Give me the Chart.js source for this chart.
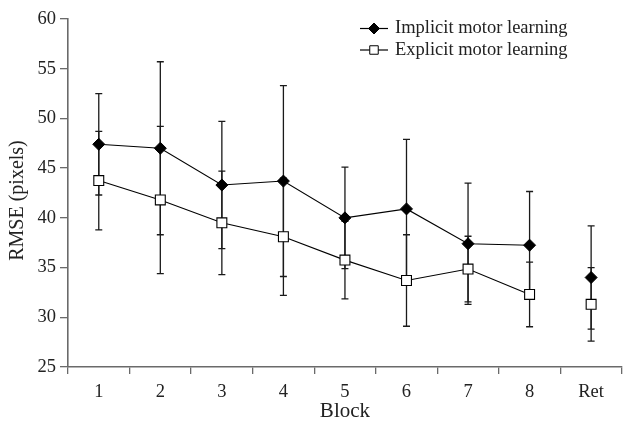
<!DOCTYPE html>
<html>
<head>
<meta charset="utf-8">
<script src="https://cdn.jsdelivr.net/npm/chart.js@4.4.1/dist/chart.umd.min.js"></script>
<style>
html, body { margin: 0; padding: 0; background: #fff; overflow: hidden; }
#wrap { width: 630px; height: 421px; }
</style>
</head>
<body>
<div id="wrap"><canvas id="chart"></canvas></div>
<script>
// values
var blocks = ['1', '2', '3', '4', '5', '6', '7', '8', 'Ret'];
var implicitMean = [47.4, 47.0, 43.3, 43.7, 40.0, 40.9, 37.4, 37.25, 34.0];
var implicitErr = [5.1, 8.7, 6.4, 9.6, 5.1, 7.0, 6.1, 5.4, 5.2];
var explicitMean = [43.75, 41.8, 39.5, 38.1, 35.75, 33.7, 34.85, 32.3, 31.3];
var explicitErr = [4.95, 7.4, 5.2, 5.9, 3.9, 4.6, 3.3, 3.25, 3.7];
var yMin = 25;
var yMax = 60;
var yStep = 5;

var textColor = '#222';
var axisColor = '#6a6a6a';
var serif = '"Liberation Serif", "DejaVu Serif", serif';

// vertical error bars with small caps, drawn under the markers
var errorBars = {
    id: 'errorBars',
    beforeDatasetsDraw: function(chart) {
        var ctx = chart.ctx;
        var xs = chart.scales.x;
        var ys = chart.scales.y;
        ctx.save();
        ctx.strokeStyle = '#1a1a1a';
        ctx.lineWidth = 1.3;
        chart.data.datasets.forEach(function(ds) {
            ds.data.forEach(function(v, i) {
                var e = ds.errors[i];
                var x = xs.getPixelForValue(i);
                var top = ys.getPixelForValue(v + e);
                var bot = ys.getPixelForValue(v - e);
                ctx.beginPath();
                ctx.moveTo(x, top);
                ctx.lineTo(x, bot);
                ctx.moveTo(x - 3.5, top);
                ctx.lineTo(x + 3.5, top);
                ctx.moveTo(x - 3.5, bot);
                ctx.lineTo(x + 3.5, bot);
                ctx.stroke();
            });
        });
        ctx.restore();
    }
};

// legend: short line with the marker, then the label
var lineLegend = {
    id: 'lineLegend',
    afterDraw: function(chart) {
        var ctx = chart.ctx;
        ctx.save();
        ctx.font = '18.5px ' + serif;
        ctx.textBaseline = 'middle';
        ctx.textAlign = 'left';
        chart.data.datasets.forEach(function(ds, k) {
            var y = 28.5 + k * 21.5;
            ctx.strokeStyle = '#000';
            ctx.lineWidth = 1.2;
            ctx.beginPath();
            ctx.moveTo(360, y);
            ctx.lineTo(388, y);
            ctx.stroke();
            ctx.fillStyle = ds.pointBackgroundColor;
            ctx.strokeStyle = '#000';
            ctx.lineWidth = 1;
            Chart.helpers.drawPoint(ctx, {
                pointStyle: ds.pointStyle,
                radius: ds.legendRadius,
                rotation: 0,
                borderWidth: 1
            }, 374, y);
            ctx.fillStyle = textColor;
            ctx.fillText(ds.label, 395, y);
        });
        ctx.restore();
    }
};

var yTicks = [];
for (var t = yMin; t <= yMax; t += yStep) yTicks.push(t);

const ctx = document.getElementById('chart');

var myChart = new Chart(ctx, {
    type: 'line',
    data: {
        labels: blocks,
        datasets: [
            {
                label: 'Implicit motor learning',
                data: implicitMean,
                errors: implicitErr,
                borderColor: '#000',
                borderWidth: 1.1,
                pointStyle: 'rectRot',
                pointRadius: 6,
                pointBackgroundColor: '#000',
                pointBorderColor: '#000',
                pointBorderWidth: 1,
                legendRadius: 5.5,
                segment: {
                    borderColor: function(c) { return c.p1DataIndex === 8 ? 'rgba(0,0,0,0)' : '#000'; }
                }
            },
            {
                label: 'Explicit motor learning',
                data: explicitMean,
                errors: explicitErr,
                borderColor: '#000',
                borderWidth: 1.1,
                pointStyle: 'rect',
                pointRadius: 7,
                pointBackgroundColor: '#fff',
                pointBorderColor: '#000',
                pointBorderWidth: 1.1,
                legendRadius: 6,
                segment: {
                    borderColor: function(c) { return c.p1DataIndex === 8 ? 'rgba(0,0,0,0)' : '#000'; }
                }
            }
        ]
    },
    options: {
        responsive: true,
        maintainAspectRatio: false,
        animation: false,
        events: [],
        layout: { padding: { top: 19, right: 2, bottom: 0, left: 0 } },
        plugins: {
            legend: { display: false },
            tooltip: { enabled: false }
        },
        scales: {
            x: {
                type: 'category',
                offset: true,
                grid: {
                    offset: true,
                    drawOnChartArea: false,
                    drawTicks: true,
                    tickLength: 7,
                    color: axisColor,
                    lineWidth: 1.3
                },
                border: { display: true, color: axisColor, width: 1.6 },
                ticks: {
                    color: textColor,
                    font: { family: serif, size: 18.5 },
                    padding: 7,
                    maxRotation: 0
                },
                title: {
                    display: true,
                    text: 'Block',
                    color: textColor,
                    font: { family: serif, size: 21, lineHeight: 1 },
                    padding: { top: 0, bottom: -1 }
                },
                afterFit: function(scale) { scale.height = 54; }
            },
            y: {
                min: yMin,
                max: yMax,
                afterBuildTicks: function(scale) {
                    scale.ticks = yTicks.map(function(v) { return { value: v }; });
                },
                grid: {
                    drawOnChartArea: false,
                    drawTicks: true,
                    tickLength: 8,
                    color: axisColor,
                    lineWidth: 1.3
                },
                border: { display: true, color: axisColor, width: 1.6 },
                ticks: {
                    color: textColor,
                    font: { family: serif, size: 18.5 },
                    padding: 4
                },
                title: {
                    display: true,
                    // trailing spaces nudge the rotated label down to where the original sits
                    text: 'RMSE (pixels)   ',
                    color: textColor,
                    font: { family: serif, size: 20, lineHeight: 1 },
                    padding: { top: 8, bottom: 0 }
                },
                afterFit: function(scale) { scale.width = 68; }
            }
        }
    },
    plugins: [errorBars, lineLegend]
});
</script>
</body>
</html>
